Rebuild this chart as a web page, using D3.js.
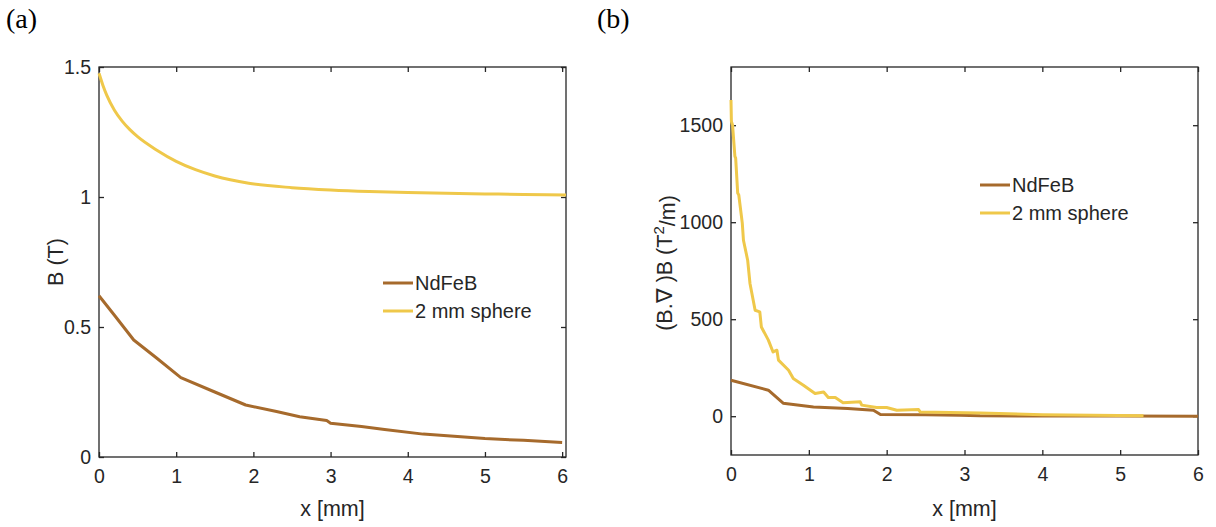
<!DOCTYPE html>
<html>
<head>
<meta charset="utf-8">
<script src="https://cdn.jsdelivr.net/npm/d3@7"></script>
<style>
  body { margin: 0; background: #fff; }
  svg text { font-family: "Liberation Sans", Arial, sans-serif; fill: #262626; }
  .panel-tag { font-family: "Liberation Serif", "Times New Roman", serif !important; fill: #000 !important; }
</style>
</head>
<body>
<div id="chart"></div>
<script>
// panel (a): B (T) vs x [mm]
var ndfebX_a = [0, 0.2, 0.45, 0.75, 1.06, 1.5, 1.9, 2.3, 2.6, 2.95, 3.0, 3.4, 3.7, 4.2, 4.6, 5.0, 5.5, 6.0];
var ndfebY_a = [0.62, 0.545, 0.45, 0.38, 0.305, 0.25, 0.2, 0.175, 0.155, 0.14, 0.13, 0.117, 0.106, 0.088, 0.08, 0.071, 0.064, 0.056];
var sphereX_a = [0, 0.05, 0.1, 0.2, 0.3, 0.4, 0.5, 0.75, 1.0, 1.25, 1.5, 1.94, 2.5, 3.0, 3.5, 4.0, 4.5, 5.0, 5.5, 6.05];
var sphereY_a = [1.476, 1.43, 1.392, 1.334, 1.292, 1.259, 1.232, 1.18, 1.137, 1.105, 1.081, 1.053, 1.036, 1.027, 1.021, 1.017, 1.014, 1.012, 1.01, 1.008];

// panel (b): (B.grad)B (T^2/m) vs x [mm]
var ndfebX_b = [0, 0.48, 0.67, 1.06, 1.5, 1.83, 1.92, 2.5, 2.94, 3.2, 4.0, 5.0, 6.0];
var ndfebY_b = [185, 134, 67, 48, 40, 31, 9, 7, 5, 2, 1, 0.5, 0];
var sphereX_b = [0, 0.005, 0.02, 0.05, 0.06, 0.086, 0.1, 0.145, 0.16, 0.214, 0.244, 0.31, 0.37, 0.39, 0.48, 0.54, 0.59, 0.61, 0.74, 0.8, 0.93, 1.08, 1.19, 1.25, 1.34, 1.44, 1.66, 1.68, 1.87, 2.0, 2.13, 2.41, 2.43, 3.2, 4.0, 5.3];
var sphereY_b = [1630, 1520, 1500, 1340, 1330, 1150, 1140, 995, 907, 804, 684, 546, 538, 460, 392, 331, 340, 289, 237, 194, 160, 117, 125, 96, 96, 69, 74, 57, 45, 45, 31, 34, 22, 17, 8, 2];

var seriesNames = ["NdFeB", "2 mm sphere"];
var seriesColors = ["#a66a2c", "#efc84a"];

var xTicks = [0, 1, 2, 3, 4, 5, 6];
var yTicks_a = [0, 0.5, 1, 1.5];
var yTicks_b = [0, 500, 1000, 1500];

var W = 1216, H = 527;
var svg = d3.select("#chart").append("svg").attr("width", W).attr("height", H);

function drawPanel(opt) {
  var x = d3.scaleLinear().domain(opt.xDomain).range([opt.left, opt.right]);
  var y = d3.scaleLinear().domain(opt.yDomain).range([opt.bottom, opt.top]);
  var g = svg.append("g");

  // frame
  g.append("rect")
    .attr("x", opt.left).attr("y", opt.top)
    .attr("width", opt.right - opt.left).attr("height", opt.bottom - opt.top)
    .attr("fill", "none").attr("stroke", "#262626").attr("stroke-width", 1.3);

  function styleAxis(sel) {
    sel.select(".domain").remove();
    sel.selectAll(".tick line").attr("stroke", "#262626").attr("stroke-width", 1.3);
    sel.selectAll(".tick text").style("font-size", "19.5px").attr("fill", "#262626");
  }

  g.append("g").attr("transform", "translate(0," + opt.bottom + ")")
    .call(d3.axisBottom(x).tickValues(xTicks).tickFormat(d3.format("d")).tickSize(-5).tickPadding(12))
    .call(styleAxis);
  g.append("g").attr("transform", "translate(0," + opt.top + ")")
    .call(d3.axisTop(x).tickValues(xTicks).tickFormat("").tickSize(-5))
    .call(styleAxis);
  g.append("g").attr("transform", "translate(" + opt.left + ",0)")
    .call(d3.axisLeft(y).tickValues(opt.yTicks).tickFormat(d3.format("~g")).tickSize(-5).tickPadding(8))
    .call(styleAxis);
  g.append("g").attr("transform", "translate(" + opt.right + ",0)")
    .call(d3.axisRight(y).tickValues(opt.yTicks).tickFormat("").tickSize(-5))
    .call(styleAxis);

  opt.series.forEach(function (s, i) {
    var line = d3.line()
      .x(function (d) { return x(d[0]); })
      .y(function (d) { return y(d[1]); })
      .curve(s.smooth ? d3.curveMonotoneX : d3.curveLinear);
    var pts = s.xs.map(function (v, j) { return [v, s.ys[j]]; });
    g.append("path").datum(pts)
      .attr("d", line)
      .attr("fill", "none")
      .attr("stroke", seriesColors[i])
      .attr("stroke-width", 3)
      .attr("stroke-linejoin", "round");
  });

  // x label
  g.append("text")
    .attr("x", (opt.left + opt.right) / 2).attr("y", 516)
    .attr("text-anchor", "middle").style("font-size", "21.5px")
    .text("x [mm]");

  // y label
  var yl = g.append("text")
    .attr("transform", "translate(" + opt.yLabelX + "," + opt.yLabelY + ") rotate(-90)")
    .attr("text-anchor", "middle").attr("dominant-baseline", "central")
    .style("font-size", "21.5px");
  opt.yLabel(yl);

  // legend
  seriesNames.forEach(function (name, i) {
    var ly = opt.legY + i * 28;
    g.append("line")
      .attr("x1", opt.legX).attr("x2", opt.legX + 30)
      .attr("y1", ly).attr("y2", ly)
      .attr("stroke", seriesColors[i]).attr("stroke-width", 3);
    g.append("text")
      .attr("x", opt.legX + 32).attr("y", ly)
      .attr("dominant-baseline", "central")
      .style("font-size", "20px").attr("fill", "#000")
      .text(name);
  });

  // panel tag
  g.append("text").attr("class", "panel-tag")
    .attr("x", opt.tagX).attr("y", 28)
    .style("font-size", "28px")
    .text(opt.tag);
}

drawPanel({
  left: 99, right: 566, top: 67, bottom: 457,
  xDomain: [0, 6.05], yDomain: [0, 1.5], yTicks: yTicks_a,
  series: [{ xs: ndfebX_a, ys: ndfebY_a }, { xs: sphereX_a, ys: sphereY_a, smooth: true }],
  yLabelX: 56, yLabelY: 262,
  yLabel: function (t) { t.text("B (T)"); },
  legX: 383, legY: 283, tag: "(a)", tagX: 6
});

drawPanel({
  left: 731, right: 1198, top: 67, bottom: 455,
  xDomain: [0, 6], yDomain: [-200, 1800], yTicks: yTicks_b,
  series: [{ xs: ndfebX_b, ys: ndfebY_b }, { xs: sphereX_b, ys: sphereY_b }],
  yLabelX: 665, yLabelY: 263,
  yLabel: function (t) {
    t.append("tspan").text("(B.\u2207 )B (T");
    t.append("tspan").attr("dy", "-0.45em").style("font-size", "15px").text("2");
    t.append("tspan").attr("dy", "0.45em").text("/m)");
  },
  legX: 980, legY: 185, tag: "(b)", tagX: 597
});
</script>
</body>
</html>
